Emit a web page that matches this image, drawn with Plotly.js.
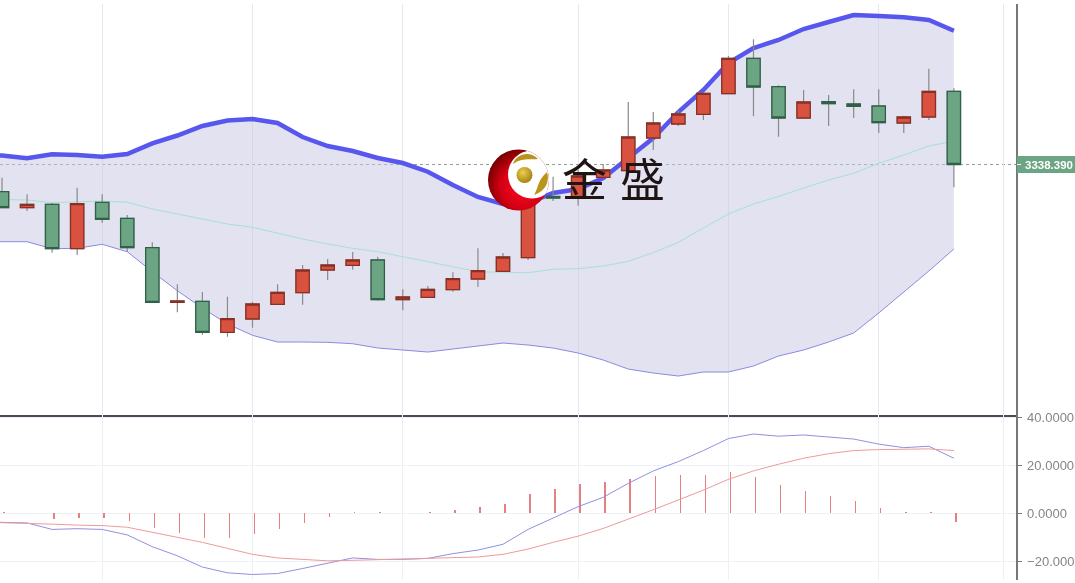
<!DOCTYPE html>
<html>
<head>
<meta charset="utf-8">
<script src="https://cdn.plot.ly/plotly-3.0.1.min.js"></script>
<style>html,body{margin:0;padding:0;background:#fff;overflow:hidden}#chart{width:1075px;height:583px;filter:blur(0.4px)}</style>
</head>
<body>
<div id="chart"></div>
<script>
const candleIndex = [0,1,2,3,4,5,6,7,8,9,10,11,12,13,14,15,16,17,18,19,20,21,22,23,24,25,26,27,28,29,30,31,32,33,34,35,36,37,38];
const candleOpen  = [3311.2,3295.2,3298.6,3254.2,3300.6,3284.6,3255.2,3200.6,3201.6,3170.6,3183.9,3198.6,3210.2,3232.9,3237.6,3242.9,3203.2,3205.6,3213.2,3223.9,3231.6,3245.2,3306.4,3305.9,3325.6,3332.2,3364.9,3378.9,3388.6,3409.2,3444.6,3416.2,3384.9,3401.2,3398.9,3396.9,3379.9,3385.9,3411.6];
const candleClose = [3295.2,3298.6,3254.2,3299.2,3283.6,3255.2,3200.6,3201.9,3170.6,3184.2,3198.9,3210.6,3232.9,3237.9,3242.9,3203.2,3205.9,3213.6,3224.2,3232.2,3245.9,3305.9,3304.9,3326.9,3332.9,3365.9,3379.9,3388.9,3409.6,3444.6,3415.9,3384.9,3400.9,3399.2,3396.6,3380.2,3385.9,3411.6,3338.39];
const candleHigh  = [3325.2,3308.6,3299.9,3315.2,3308.6,3287.9,3260.6,3218.6,3210.9,3206.2,3201.2,3218.6,3237.9,3243.9,3250.9,3246.2,3213.6,3216.9,3230.6,3254.6,3249.9,3314.9,3326.2,3332.9,3338.9,3400.9,3390.9,3392.9,3409.6,3446.9,3463.6,3417.6,3412.9,3407.9,3413.6,3413.6,3387.2,3434.2,3414.6];
const candleLow   = [3295.2,3291.9,3250.2,3247.9,3280.2,3251.2,3200.6,3190.6,3168.2,3166.2,3175.2,3198.6,3198.2,3222.9,3233.2,3202.2,3192.6,3205.6,3211.2,3215.9,3231.6,3242.9,3301.9,3297.2,3325.6,3332.2,3352.9,3376.9,3382.9,3409.2,3386.6,3366.2,3384.9,3376.9,3384.9,3369.9,3369.9,3382.9,3315.6];

const bandIndex = [-1,0,1,2,3,4,5,6,7,8,9,10,11,12,13,14,15,16,17,18,19,20,21,22,23,24,25,26,27,28,29,30,31,32,33,34,35,36,37,38];
const bollUpper = [3347.9,3347.4,3344.6,3348.6,3347.9,3346.2,3348.9,3359.6,3367.4,3376.9,3382.4,3383.9,3379.9,3365.9,3356.9,3351.9,3344.9,3339.9,3331.2,3317.9,3305.9,3298.9,3299.9,3309.9,3313.9,3324.9,3344.9,3364.9,3390.9,3412.9,3439.9,3454.9,3462.9,3473.9,3480.9,3487.9,3486.9,3485.6,3482.9,3472.2];
const bollLower = [3261.2,3261.2,3261.2,3254.2,3254.6,3258.6,3251.2,3231.2,3212.2,3194.9,3178.9,3167.6,3160.9,3160.9,3160.6,3159.2,3154.9,3152.9,3150.9,3153.9,3156.9,3159.9,3157.9,3154.9,3149.9,3142.9,3133.9,3129.9,3126.9,3130.9,3130.9,3136.9,3146.9,3152.9,3160.9,3169.9,3189.9,3210.9,3231.9,3253.9];
const bollMid   = [3303.9,3303.4,3302.9,3300.2,3301.2,3301.9,3300.6,3293.9,3288.9,3283.6,3278.9,3275.6,3269.6,3263.9,3258.9,3254.6,3251.2,3246.2,3241.2,3236.2,3231.2,3230.6,3230.2,3233.6,3234.2,3236.9,3241.6,3250.2,3260.6,3274.9,3288.9,3298.9,3306.4,3314.9,3322.9,3329.6,3339.6,3347.9,3356.9,3361.9];

const macdDif = [-3.5,-3.6,-4,-6.7,-6.4,-6.7,-9,-13.9,-17.7,-22.4,-24.8,-25.5,-25.1,-23,-20.9,-18.6,-19.2,-19.2,-18.8,-16.8,-15.3,-12.9,-6.7,-2.1,2.8,6.7,12.5,17.7,21.6,26.2,31.2,33.1,32.2,32.7,31.7,31,28.9,27.4,28,23];
const macdDea = [-3.6,-3.8,-4,-4.5,-4.9,-5.1,-5.8,-7.8,-9.9,-12.1,-14.6,-17.1,-18.6,-19.3,-19.8,-19.6,-19.3,-19.2,-18.9,-18.6,-18.2,-17.1,-14.9,-12.1,-9.5,-6.3,-2.5,1.5,5.6,9.7,14.2,17.7,20.5,23,24.9,26.2,26.6,26.9,26.9,26.2];
const macdHist = [0.4,0,-2.5,-1.8,-1.8,-3.1,-6.3,-8.2,-10.3,-10.3,-8.8,-6.7,-3.9,-1.4,0.7,0.4,0,0.7,1.4,2.8,3.9,7.9,10.2,12.1,12.9,14.5,15.7,15.9,16.1,17.4,15.3,11.8,9.3,7.2,5.1,2.4,0.7,0.7,-3.5];

const xGridIndex = [4,10,16,23,29,35,40];
const macdTickVals = [40,20,0,-20];
const macdTickText = ["40.0000","20.0000","0.0000","\u221220.000"];
const lastPrice = 3338.39;
const lastPriceLabel = "3338.390";
const brandChars = ["金","盛"];

const bodyHigh = candleOpen.map((o,i)=>Math.max(o,candleClose[i]));
const bodyLow  = candleOpen.map((o,i)=>Math.min(o,candleClose[i]));

const logoSvg = `<svg xmlns="http://www.w3.org/2000/svg" viewBox="0 0 64 64" width="256" height="256">
<defs>
<radialGradient id="r" cx="0.58" cy="0.6" r="0.62"><stop offset="0" stop-color="#ff0a1e"/><stop offset="0.6" stop-color="#d40014"/><stop offset="1" stop-color="#740000"/></radialGradient>
<radialGradient id="g" cx="0.4" cy="0.35" r="0.7"><stop offset="0" stop-color="#ecd050"/><stop offset="1" stop-color="#a07c10"/></radialGradient>
<clipPath id="c"><circle cx="30.5" cy="31" r="30.5"/></clipPath>
</defs>
<circle cx="30.5" cy="31" r="30.5" fill="url(#r)"/>
<circle cx="44" cy="25.5" r="24" fill="#fff" clip-path="url(#c)"/>
<path d="M25 15C28 5 42 1 50 10C44 11 34 8 25 15Z" fill="#b8941c"/>
<path d="M46 46C51 38 49 32 59 23C62 32 58 42 46 46Z" fill="#b8941c"/>
<circle cx="36.5" cy="26" r="8" fill="url(#g)"/>
</svg>`;

const data = [
  {type:'scatter',mode:'lines',x:bandIndex,y:bollLower,xaxis:'x',yaxis:'y',line:{color:'#8a8ae0',width:1},hoverinfo:'skip'},
  {type:'scatter',mode:'lines',x:bandIndex,y:bollUpper,xaxis:'x',yaxis:'y',line:{color:'#5757ee',width:4.5},fill:'tonexty',fillcolor:'rgba(198,198,228,0.5)',hoverinfo:'skip'},
  {type:'scatter',mode:'lines',x:bandIndex,y:bollMid,xaxis:'x',yaxis:'y',line:{color:'#a8e0cf',width:1},hoverinfo:'skip'},
  {type:'candlestick',x:candleIndex,open:candleOpen,close:candleClose,high:candleHigh,low:candleLow,xaxis:'x',yaxis:'y3',whiskerwidth:0,
    increasing:{line:{color:'#8a8a8a',width:1.2},fillcolor:'#d9513f'},decreasing:{line:{color:'#8a8a8a',width:1.2},fillcolor:'#6ca583'},hoverinfo:'skip'},
  {type:'candlestick',x:candleIndex,open:candleOpen,close:candleClose,high:bodyHigh,low:bodyLow,xaxis:'x',yaxis:'y3',whiskerwidth:0,
    increasing:{line:{color:'#8a2f25',width:1.3},fillcolor:'#d9513f'},decreasing:{line:{color:'#2f6048',width:1.3},fillcolor:'#6ca583'},hoverinfo:'skip'},
  {type:'bar',x:candleIndex,y:macdHist,xaxis:'x2',yaxis:'y2',width:0.06,offset:0.05,marker:{color:'#e57f80'},hoverinfo:'skip'},
  {type:'scatter',mode:'lines',x:bandIndex,y:macdDif,xaxis:'x2',yaxis:'y2',line:{color:'#9090e0',width:1},hoverinfo:'skip'},
  {type:'scatter',mode:'lines',x:bandIndex,y:macdDea,xaxis:'x2',yaxis:'y2',line:{color:'#ee9a9a',width:1},hoverinfo:'skip'}
];

const xRange = [-0.08,40.48];
const priceRange = [3087.6,3498.9];
const gridCol = '#e4e9f1';
const split = 0.2859;

const layout = {
  width:1075,height:583,
  margin:{l:0,r:59,t:4,b:3,pad:0},
  paper_bgcolor:'#ffffff',plot_bgcolor:'#ffffff',
  showlegend:false,dragmode:false,hovermode:false,boxgap:0.24,bargap:0,
  font:{family:'"Liberation Sans",Arial,sans-serif',color:'#888888'},
  xaxis:{domain:[0,1],range:xRange,anchor:'y',tickmode:'array',tickvals:xGridIndex,showticklabels:false,ticks:'',showgrid:true,gridcolor:gridCol,gridwidth:1,
    showline:true,linecolor:'#4a4a55',linewidth:1.5,zeroline:false,rangeslider:{visible:false}},
  yaxis:{domain:[split,1],range:priceRange,side:'right',anchor:'x',showgrid:false,zeroline:false,showticklabels:false,ticks:'',showline:true,linecolor:'#777777',linewidth:1.5},
  yaxis3:{overlaying:'y',range:priceRange,side:'right',anchor:'x',visible:false},
  xaxis2:{domain:[0,1],range:xRange,anchor:'y2',tickmode:'array',tickvals:xGridIndex,showticklabels:false,ticks:'',showgrid:true,gridcolor:'#eaf0f5',gridwidth:1,showline:false,zeroline:false},
  yaxis2:{domain:[0,split],range:[-27.8,40.9],side:'right',anchor:'x2',tickmode:'array',tickvals:macdTickVals,ticktext:macdTickText,
    ticks:'outside',ticklen:4,tickwidth:1,tickcolor:'#777777',ticklabelstandoff:3,showgrid:true,gridcolor:'#eef2f6',gridwidth:1,zeroline:false,
    showline:true,linecolor:'#777777',linewidth:1.5,tickfont:{size:13,color:'#858585',family:'"Liberation Sans",Arial,sans-serif'}},
  shapes:[
    {type:'line',xref:'paper',x0:0,x1:1,yref:'y',y0:lastPrice,y1:lastPrice,line:{color:'#8aa396',width:1,dash:'dot'},layer:'below'},
    {type:'rect',xref:'paper',x0:1.001,x1:1.06,yref:'y',y0:lastPrice-8.5,y1:lastPrice+8.5,fillcolor:'#6ba583',line:{width:0},layer:'above'},
    {type:'line',xref:'paper',x0:1.001,x1:1.005,yref:'y',y0:lastPrice,y1:lastPrice,line:{color:'#ffffff',width:1},layer:'above'}
  ],
  annotations:[
    {xref:'paper',x:1,xanchor:'left',yref:'y',y:lastPrice,yanchor:'middle',text:'<b>'+lastPriceLabel+'</b>',showarrow:false,align:'left',
     borderpad:0,xshift:8,font:{size:11.5,color:'#ffffff',family:'"Liberation Sans",Arial,sans-serif'}},
    {xref:'paper',x:584/1016,xanchor:'center',yref:'paper',y:1-(177-4)/576,yanchor:'middle',text:brandChars[0],showarrow:false,
     font:{size:45,color:'#1e1414',family:'"Noto Sans CJK SC"'}},
    {xref:'paper',x:642/1016,xanchor:'center',yref:'paper',y:1-(177-4)/576,yanchor:'middle',text:brandChars[1],showarrow:false,
     font:{size:45,color:'#1e1414',family:'"Noto Sans CJK SC"'}}
  ],
  images:[
    {source:'data:image/svg+xml;charset=utf-8,'+encodeURIComponent(logoSvg),xref:'paper',yref:'paper',x:488/1016,y:1-(149-4)/576,sizex:64/1016,sizey:64/576,xanchor:'left',yanchor:'top',sizing:'stretch',layer:'above'}
  ]
};
Plotly.newPlot('chart',data,layout,{displayModeBar:false,staticPlot:true});
</script>
</body>
</html>
